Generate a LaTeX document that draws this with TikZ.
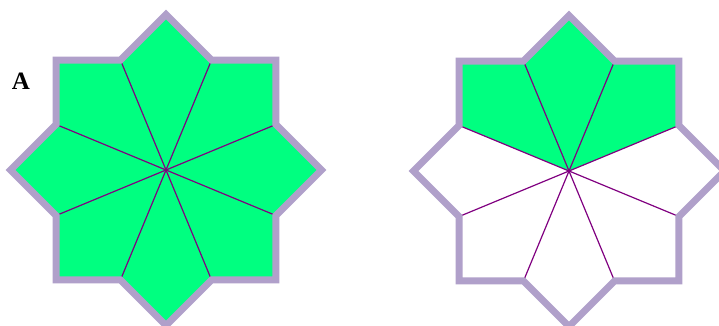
\documentclass[tikz,border=0pt]{standalone}
\usepackage{fontspec}
\setmainfont{Liberation Serif}
\definecolor{cgreen}{HTML}{00FF80}
\definecolor{clilac}{HTML}{B0A0CA}
\definecolor{cplum}{HTML}{800080}
\tikzset{
  kite/.style={fill=cgreen, draw=none},
  spoke/.style={draw=cplum, line width=1.2pt},
  rim/.style={draw=clilac, line width=7pt, line join=miter},
  label/.style={font=\fontsize{25}{25}\selectfont\bfseries, inner sep=0pt},
}
\newcommand{\tipR}{155.5}
\newcommand{\dipR}{119}

\begin{document}
\begin{tikzpicture}[x=1pt, y=1pt]
  \useasboundingbox (0,0) rectangle (719,325);
  \clip (0,0) rectangle (719,325);
  \coordinate (ca) at (166,155);
  \coordinate (cb) at (569,154);
  % left star, every kite filled
  \foreach \k in {0,...,7} {
    \fill[kite] (ca) -- ([shift={(\k*45-22.5:\dipR)}]ca) -- ([shift={(\k*45:\tipR)}]ca)
      -- ([shift={(\k*45+22.5:\dipR)}]ca) -- cycle;
  }
  % right star, the three upper kites only
  \foreach \k in {1,2,3} {
    \fill[kite] (cb) -- ([shift={(\k*45-22.5:\dipR)}]cb) -- ([shift={(\k*45:\tipR)}]cb)
      -- ([shift={(\k*45+22.5:\dipR)}]cb) -- cycle;
  }
  % spokes
  \foreach \c in {ca,cb} \foreach \k in {0,...,7} {
    \draw[spoke] (\c) -- ([shift={(\k*45+22.5:\dipR)}]\c);
  }
  % outlines
  \foreach \c in {ca,cb} {
    \draw[rim] ([shift={(0:\tipR)}]\c)
      \foreach \k in {0,...,6} { -- ([shift={(\k*45+22.5:\dipR)}]\c) -- ([shift={(\k*45+45:\tipR)}]\c) }
      -- ([shift={(337.5:\dipR)}]\c) -- cycle;
  }
  \node[label] (lblA) at (21,244) {A};
\end{tikzpicture}
\end{document}
